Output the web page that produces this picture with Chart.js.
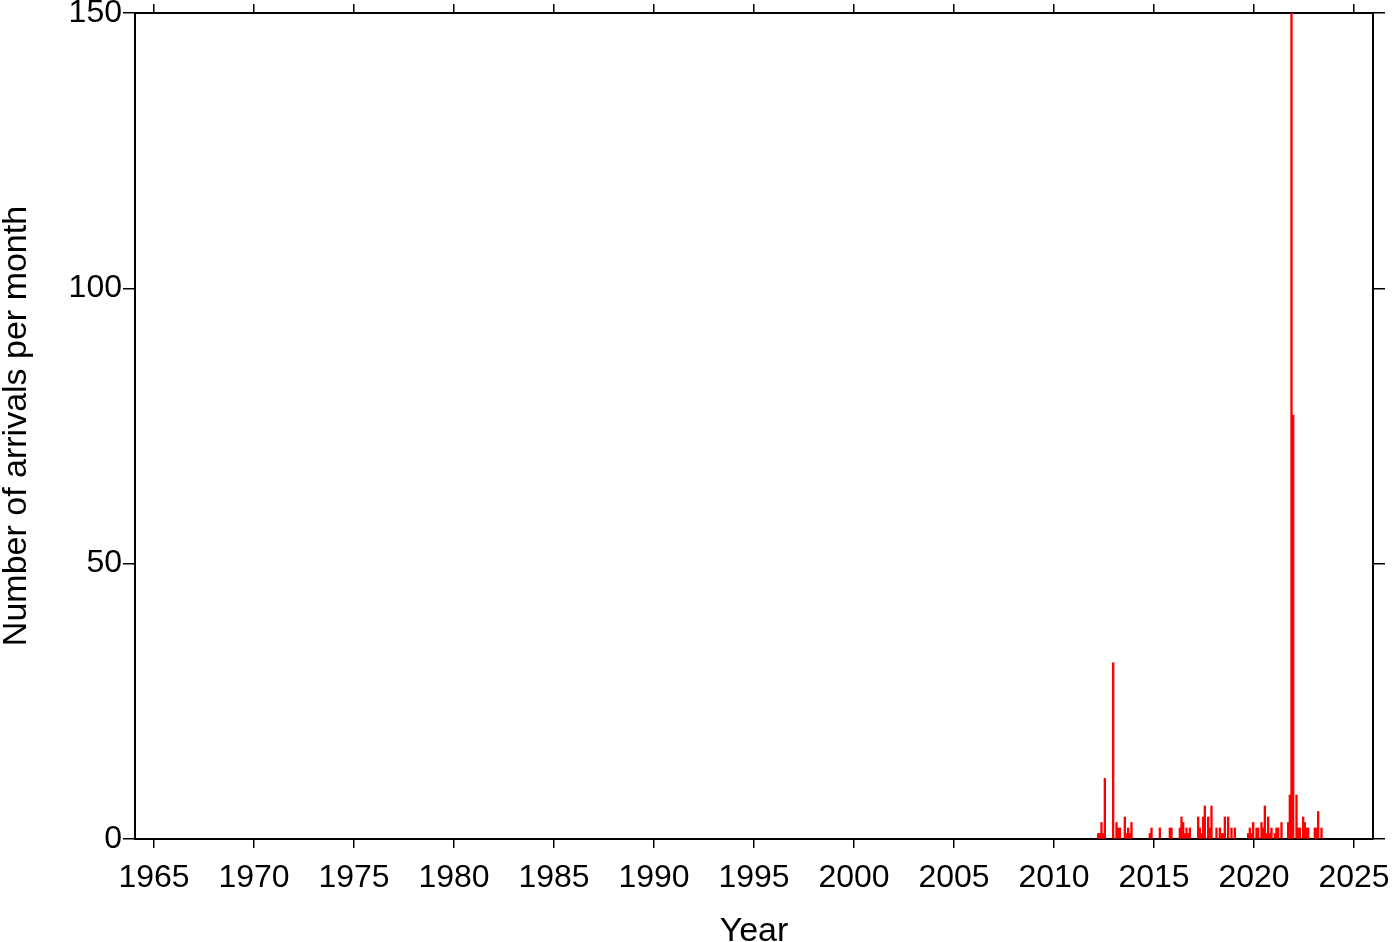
<!DOCTYPE html>
<html>
<head>
<meta charset="utf-8">
<title>Arrivals per month</title>
<script src="https://cdn.jsdelivr.net/npm/chart.js@4.4.1/dist/chart.umd.min.js"></script>
<style>
    html, body { margin: 0; padding: 0; background: #fff; }
    #wrap { width: 1400px; height: 942px; }
</style>
</head>
<body>
<div id="wrap"><canvas id="arrivalsChart" width="1400" height="942"></canvas></div>
<script>
// Monthly arrival counts
const arrivalMonths = [
    '2012-03', '2012-04', '2012-05', '2012-06', '2012-07', '2012-12',
    '2013-02', '2013-03', '2013-04', '2013-07', '2013-08', '2013-09', '2013-10', '2013-11',
    '2014-10', '2014-11',
    '2015-04', '2015-10', '2015-11',
    '2016-04', '2016-05', '2016-06', '2016-07', '2016-08', '2016-09', '2016-10',
    '2017-03', '2017-04', '2017-05', '2017-06', '2017-07', '2017-09', '2017-10', '2017-11',
    '2018-02', '2018-04', '2018-05', '2018-06', '2018-07', '2018-09', '2018-11',
    '2019-01', '2019-09', '2019-10', '2019-11', '2019-12',
    '2020-02', '2020-03', '2020-05', '2020-06', '2020-07', '2020-08', '2020-09', '2020-10', '2020-11',
    '2021-01', '2021-02', '2021-03', '2021-05', '2021-09', '2021-10', '2021-11', '2021-12',
    '2022-02', '2022-03', '2022-04', '2022-06', '2022-07', '2022-08', '2022-09',
    '2023-01', '2023-02', '2023-03', '2023-05'
];
const arrivalCounts = [
    1, 1, 3, 1, 11, 32,
    3, 2, 2, 4, 1, 2, 1, 3,
    1, 2,
    2, 2, 2,
    2, 4, 3, 1, 2, 1, 2,
    4, 2, 1, 4, 6, 4, 2, 6,
    2, 2, 1, 1, 4, 4, 2,
    2, 1, 2, 1, 3,
    2, 2, 3, 2, 6, 1, 4, 1, 2,
    1, 2, 2, 3, 3, 8, 160, 77,
    8, 2, 2, 4, 3, 2, 2,
    2, 2, 5, 2
];
const yearTicks = [1965, 1970, 1975, 1980, 1985, 1990, 1995, 2000, 2005, 2010, 2015, 2020, 2025];
const countTicks = [0, 50, 100, 150];

const X_MIN = 1964.05;
const X_MAX = 2025.95;
const FONT = "'Liberation Sans', Arial, Helvetica, sans-serif";

document.addEventListener('DOMContentLoaded', function() {
    if (typeof Chart !== 'undefined') {
        initArrivalsChart();
    } else {
        console.error('Chart.js not loaded');
    }
});

function monthToYear(m) {
    const parts = m.split('-');
    return parseInt(parts[0], 10) + (parseInt(parts[1], 10) - 0.5) / 12;
}

// fixed box sizes so the plot frame lands where the reference has it
function fixHeight(h) {
    return s => { s.height = h; s.paddingLeft = 0; s.paddingRight = 0; };
}
function fixWidth(w) {
    return s => { s.width = w; s.paddingTop = 0; s.paddingBottom = 0; };
}

function initArrivalsChart() {
    const canvas = document.getElementById('arrivalsChart');
    const points = arrivalMonths.map((m, i) => ({ x: monthToYear(m), y: arrivalCounts[i] }));

    const frame = { display: true, color: '#000', width: 2 };
    const tickFont = { size: 32, family: FONT };
    const titleFont = { size: 34, family: FONT, lineHeight: 1 };
    const tickGrid = len => ({ drawOnChartArea: false, offset: false, tickLength: len, color: '#000', lineWidth: 1.5 });

    new Chart(canvas, {
        type: 'bar',
        data: {
            datasets: [{
                data: points,
                backgroundColor: '#ff0000',
                borderWidth: 0,
                barPercentage: 1,
                categoryPercentage: 1
            }]
        },
        options: {
            responsive: false,
            animation: false,
            devicePixelRatio: 1,
            layout: { padding: 0 },
            plugins: {
                legend: { display: false },
                tooltip: { enabled: false }
            },
            scales: {
                x: {
                    type: 'linear',
                    position: 'bottom',
                    offset: false,
                    min: X_MIN,
                    max: X_MAX,
                    afterFit: fixHeight(103),
                    afterBuildTicks: s => { s.ticks = yearTicks.map(v => ({ value: v })); },
                    border: frame,
                    grid: tickGrid(9),
                    ticks: {
                        font: tickFont,
                        color: '#000',
                        padding: 11,
                        maxRotation: 0,
                        autoSkip: false,
                        callback: v => String(v)
                    },
                    title: {
                        display: true,
                        text: 'Year',
                        font: titleFont,
                        color: '#000',
                        padding: { top: 0, bottom: -7 }
                    }
                },
                xTop: {
                    type: 'linear',
                    position: 'top',
                    offset: false,
                    min: X_MIN,
                    max: X_MAX,
                    afterFit: fixHeight(13),
                    afterBuildTicks: s => { s.ticks = yearTicks.map(v => ({ value: v })); },
                    border: frame,
                    grid: tickGrid(9),
                    ticks: { display: false }
                },
                y: {
                    type: 'linear',
                    position: 'left',
                    min: 0,
                    max: 150,
                    afterFit: fixWidth(135),
                    afterBuildTicks: s => { s.ticks = countTicks.map(v => ({ value: v })); },
                    border: frame,
                    grid: tickGrid(12),
                    ticks: {
                        font: tickFont,
                        color: '#000',
                        padding: 1,
                        callback: v => String(v)
                    },
                    title: {
                        display: true,
                        text: 'Number of arrivals per month',
                        font: titleFont,
                        color: '#000',
                        padding: 0
                    }
                },
                yRight: {
                    type: 'linear',
                    position: 'right',
                    min: 0,
                    max: 150,
                    afterFit: fixWidth(27),
                    afterBuildTicks: s => { s.ticks = countTicks.map(v => ({ value: v })); },
                    border: frame,
                    grid: tickGrid(12),
                    ticks: { display: false }
                }
            }
        }
    });
}
</script>
</body>
</html>
